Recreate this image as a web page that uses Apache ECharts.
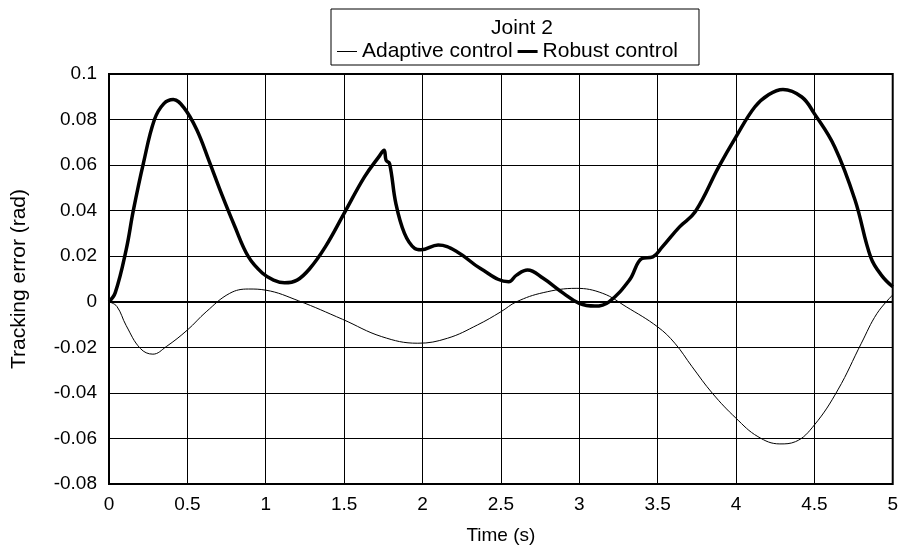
<!DOCTYPE html>
<html>
<head>
<meta charset="utf-8">
<title>Joint 2</title>
<script src="https://cdn.jsdelivr.net/npm/echarts@6/dist/echarts.min.js"></script>
<style>
    html, body { margin: 0; padding: 0; background: #fff; }
    #main { width: 901px; height: 555px; }
</style>
</head>
<body>
<div id="main"></div>
<script>
// 时间 (s) / 跟踪误差 (rad)
var robustTime = [0, 0.04, 0.11, 0.155, 0.22, 0.29, 0.35, 0.41, 0.48, 0.56, 0.64, 0.72, 0.8, 0.89, 0.98, 1.05, 1.12, 1.2, 1.28, 1.38, 1.5, 1.63, 1.72, 1.755, 1.768, 1.79, 1.83, 1.885, 1.95, 1.99, 2.1, 2.22, 2.37, 2.55, 2.6, 2.67, 2.77, 2.9, 3.0, 3.1, 3.19, 3.32, 3.4, 3.47, 3.53, 3.64, 3.74, 3.89, 4.0, 4.12, 4.21, 4.3, 4.42, 4.5, 4.63, 4.76, 4.86, 4.93, 5.0];
var robustValue = [0, 0.004, 0.023, 0.040, 0.061, 0.080, 0.087, 0.0888, 0.085, 0.0755, 0.0615, 0.047, 0.0335, 0.0197, 0.0125, 0.0095, 0.0083, 0.0095, 0.0145, 0.0241, 0.0388, 0.0548, 0.0635, 0.0665, 0.0621, 0.0607, 0.0432, 0.030, 0.0234, 0.0228, 0.0249, 0.022, 0.0146, 0.0088, 0.0117, 0.0139, 0.0103, 0.0037, -0.0007, -0.0019, 0.0, 0.0095, 0.019, 0.0197, 0.0241, 0.0329, 0.0395, 0.0592, 0.0724, 0.0855, 0.091, 0.0932, 0.0899, 0.0826, 0.068, 0.0446, 0.0195, 0.0115, 0.0066];

var adaptiveTime = [0, 0.05, 0.11, 0.2, 0.28, 0.365, 0.5, 0.62, 0.77, 0.89, 1.0, 1.21, 1.49, 1.74, 1.97, 2.16, 2.35, 2.5, 2.6, 2.77, 2.98, 3.15, 3.3, 3.5, 3.61, 3.72, 3.85, 4.0, 4.14, 4.28, 4.38, 4.5, 4.65, 4.8, 4.9, 5.0];
var adaptiveValue = [0, -0.002, -0.0105, -0.0205, -0.023, -0.0197, -0.0124, -0.0044, 0.0037, 0.0056, 0.0051, 0.0004, -0.0077, -0.0153, -0.0182, -0.016, -0.0102, -0.0044, 0, 0.004, 0.0059, 0.0037, -0.0022, -0.011, -0.0182, -0.0285, -0.0402, -0.0511, -0.0592, -0.0624, -0.0614, -0.0541, -0.0387, -0.0182, -0.0051, 0.003];

var seriesNames = ['Adaptive control', 'Robust control'];

function pairs(xs, ys) {
    var out = [];
    for (var i = 0; i < xs.length; i++) {
        out.push([xs[i], ys[i]]);
    }
    return out;
}

var myChart = echarts.init(document.getElementById('main'));
var fontName = '"Liberation Sans", Arial, sans-serif';

var option = {
    animation: false,
    title: {
        text: 'Joint 2',
        left: 517,
        textAlign: 'center',
        top: 13,
        textStyle: { fontFamily: fontName, fontSize: 21, fontWeight: 'normal', color: '#000' }
    },
    legend: {
        // 图例线: 细线 / 粗线
        data: [
            { name: seriesNames[0], icon: 'path://M0,0M20,4M0,1.5H20V2.5H0Z' },
            { name: seriesNames[1], icon: 'path://M0,0M20,4M0,0.5H20V3.5H0Z' }
        ],
        left: 331,
        top: 9,
        padding: [32, 21, 3, 6],
        itemGap: 5,
        itemWidth: 20,
        itemHeight: 4,
        borderColor: '#000',
        borderWidth: 1,
        itemStyle: { color: '#000', borderWidth: 0 },
        textStyle: { fontFamily: fontName, fontSize: 21, color: '#000' }
    },
    grid: {
        left: 109,
        right: 2,
        top: 74,
        bottom: 71,
        show: true,
        borderColor: '#000',
        borderWidth: 2,
        containLabel: false
    },
    xAxis: {
        type: 'value',
        min: 0,
        max: 5,
        interval: 0.5,
        name: 'Time (s)',
        nameLocation: 'middle',
        nameGap: 42,
        nameTextStyle: { fontFamily: fontName, fontSize: 19, color: '#000' },
        axisLine: { show: false },
        axisTick: { show: false },
        axisLabel: { fontFamily: fontName, fontSize: 19, color: '#000', margin: 11 },
        splitLine: { show: true, lineStyle: { color: '#000', width: 1 } }
    },
    yAxis: {
        type: 'value',
        min: -0.08,
        max: 0.1,
        interval: 0.02,
        name: 'Tracking error (rad)',
        nameLocation: 'middle',
        nameGap: 79,
        nameTextStyle: { fontFamily: fontName, fontSize: 21, color: '#000' },
        axisLine: { show: false },
        axisTick: { show: false },
        axisLabel: { fontFamily: fontName, fontSize: 19, color: '#000', margin: 12 },
        splitLine: { show: true, lineStyle: { color: '#000', width: 1 } }
    },
    series: [
        {
            name: seriesNames[0],
            type: 'line',
            data: pairs(adaptiveTime, adaptiveValue),
            smooth: 0.4,
            symbol: 'none',
            color: '#000',
            lineStyle: { color: '#000', width: 1 },
            // 零线
            markLine: {
                silent: true,
                symbol: 'none',
                label: { show: false },
                lineStyle: { color: '#000', width: 2, type: 'solid' },
                data: [{ yAxis: 0 }]
            }
        },
        {
            name: seriesNames[1],
            type: 'line',
            data: pairs(robustTime, robustValue),
            smooth: 0.4,
            symbol: 'none',
            color: '#000',
            lineStyle: { color: '#000', width: 3.5 }
        }
    ]
};
myChart.setOption(option);
</script>
</body>
</html>
